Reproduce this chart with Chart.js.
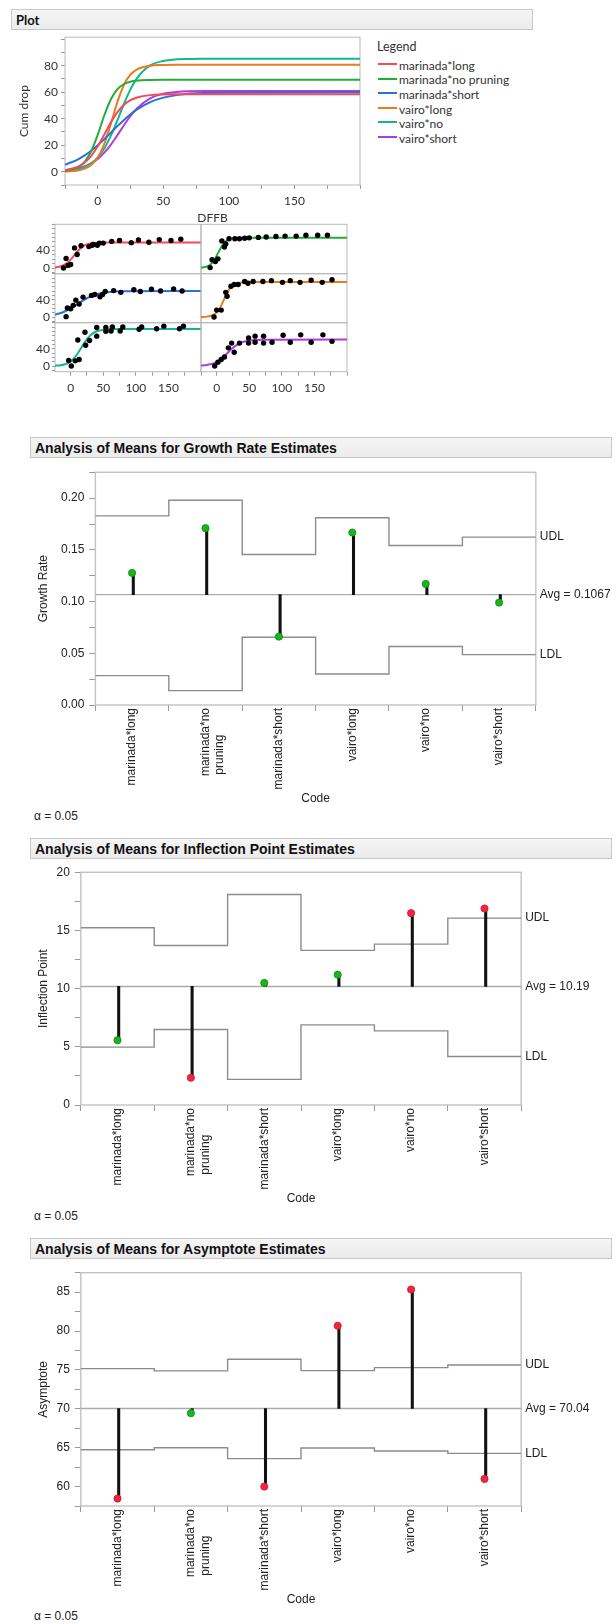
<!DOCTYPE html>
<html>
<head>
<meta charset="utf-8">
<script src="https://cdn.jsdelivr.net/npm/chart.js@4.4.1/dist/chart.umd.min.js"></script>
<style>
  body { margin: 0; background: #fff; width: 616px; height: 1624px; position: relative; overflow: hidden; }
  .hdr { position: absolute; box-sizing: border-box; border: 1px solid #c8c8c8; background: linear-gradient(#f5f5f5, #ebebeb);
         color: #111; padding-left: 4px; display: flex; align-items: center; white-space: nowrap; }
  .txt { position: absolute; white-space: nowrap; color: #222; line-height: 1; }
  canvas { position: absolute; }
</style>
</head>
<body>
<div class="hdr" style="left:11px;top:9px;width:522px;height:21px;font:bold 13px Lato;">Plot</div>
<div class="hdr" style="left:30px;top:437px;width:582px;height:21px;font:bold 14px 'Liberation Sans';">Analysis of Means for Growth Rate Estimates</div>
<div class="hdr" style="left:30px;top:838px;width:582px;height:21px;font:bold 14px 'Liberation Sans';">Analysis of Means for Inflection Point Estimates</div>
<div class="hdr" style="left:30px;top:1238px;width:582px;height:21px;font:bold 14px 'Liberation Sans';">Analysis of Means for Asymptote Estimates</div>
<div class="txt" style="left:34px;top:809px;font:12px 'Liberation Sans';">α = 0.05</div>
<div class="txt" style="left:34px;top:1209px;font:12px 'Liberation Sans';">α = 0.05</div>
<div class="txt" style="left:34px;top:1609px;font:12px 'Liberation Sans';">α = 0.05</div>
<div id="legend"></div>
<script>
// groups
const seriesNames = ['marinada*long', 'marinada*no pruning', 'marinada*short', 'vairo*long', 'vairo*no', 'vairo*short'];
const seriesColors = ['#f24a5b', '#22ad3a', '#2a6fdf', '#ec7b1e', '#14b68e', '#b23be0'];

// fitted curves
const curveDays = [-25, -15, -10, -5, 0, 5, 10, 15, 20, 25, 30, 40, 50, 60, 80, 200];
const curveML = [1.1, 3.9, 7.0, 12.0, 19.2, 28.1, 37.3, 45.0, 50.5, 54.0, 56.0, 57.8, 58.3, 58.5, 58.5, 58.5];
const curveMN = [0.6, 3.4, 7.5, 15.5, 28.0, 42.6, 54.7, 62.3, 66.2, 68.0, 68.8, 69.3, 69.4, 69.4, 69.4, 69.4];
const curveMS = [5.3, 9.4, 12.3, 15.9, 20.0, 24.6, 29.5, 34.4, 39.1, 43.4, 47.0, 52.5, 55.9, 57.8, 59.4, 60.0];
const curveVL = [0.2, 1.0, 2.3, 5.1, 10.8, 21.1, 36.3, 52.7, 65.6, 73.4, 77.3, 80.0, 80.5, 80.7, 80.7, 80.7];
const curveVN = [0.7, 2.1, 3.7, 6.4, 10.8, 17.6, 27.2, 38.9, 51.3, 62.3, 70.7, 80.2, 83.6, 84.8, 85.3, 85.3];
const curveVS = [1.0, 2.5, 4.0, 6.3, 9.6, 14.4, 20.5, 27.6, 35.1, 42.1, 47.9, 55.4, 58.8, 60.2, 60.9, 61.0];
const curves = [curveML, curveMN, curveMS, curveVL, curveVN, curveVS];

// observations in the small panels
const daysML = [-11, -7, -4, 0, 6, 10, 16, 28, 33, 35, 41, 44, 50, 63, 75, 93, 104, 120, 136, 154, 169];
const dropML = [0, 22, 6, 8, 46, 31, 51, 49, 52, 54, 52, 57, 57, 61, 63, 58, 64, 59, 65, 63, 66];
const daysMN = [-10, -7, -2, 2, 8, 12, 14, 19, 28, 35, 43, 50, 64, 76, 91, 105, 122, 137, 155, 170];
const dropMN = [1, 19, 15, 21, 62, 48, 55, 67, 67, 67, 68, 69, 70, 71, 72, 73, 73, 75, 75, 75];
const daysMS = [-7, -5, 0, 4, 8, 13, 19, 32, 37, 45, 49, 53, 66, 77, 97, 107, 124, 138, 158, 171];
const dropMS = [1, 21, 19, 27, 39, 30, 46, 50, 52, 47, 52, 59, 61, 57, 63, 59, 64, 60, 65, 60];
const daysVL = [-4, 0, 7, 14, 16, 22, 27, 33, 43, 48, 56, 71, 84, 101, 113, 128, 145, 162, 177];
const dropVL = [0, 16, 16, 57, 48, 71, 75, 75, 82, 78, 82, 82, 84, 80, 84, 80, 85, 80, 86];
const daysVN = [-3, 1, 7, 11, 13, 22, 23, 29, 40, 40, 54, 54, 62, 64, 76, 80, 105, 109, 132, 143, 167, 173];
const dropVN = [13, 0, 12, 60, 15, 78, 48, 59, 69, 89, 80, 89, 81, 90, 81, 90, 85, 90, 86, 92, 86, 92];
const daysVS = [-3, 2, 7, 12, 18, 23, 27, 35, 49, 49, 59, 59, 72, 72, 85, 102, 113, 129, 145, 163, 177];
const dropVS = [0, 9, 15, 21, 42, 53, 32, 53, 65, 53, 69, 55, 69, 53, 55, 71, 55, 72, 55, 72, 57];
const obsDays = [daysML, daysMN, daysMS, daysVL, daysVN, daysVS];
const obsDrops = [dropML, dropMN, dropMS, dropVL, dropVN, dropVS];

// analysis of means
const growthRate = [0.1277, 0.1710, 0.0661, 0.1668, 0.1171, 0.0990];
const growthUDL = [0.1829, 0.1980, 0.1455, 0.1810, 0.1542, 0.1623];
const growthLDL = [0.0284, 0.0139, 0.0655, 0.0300, 0.0565, 0.0487];
const growthAvg = 0.1067;

const inflection = [5.57, 2.34, 10.49, 11.2, 16.49, 16.89];
const inflUDL = [15.23, 13.71, 18.09, 13.29, 13.83, 16.06];
const inflLDL = [4.97, 6.49, 2.2, 6.89, 6.37, 4.17];
const inflAvg = 10.19;

const asymptote = [58.46, 69.44, 60.0, 80.68, 85.34, 60.98];
const asymUDL = [75.17, 74.87, 76.37, 74.91, 75.3, 75.64];
const asymLDL = [64.74, 65.0, 63.59, 64.96, 64.57, 64.27];
const asymAvg = 70.04;

Chart.defaults.animation = false;
Chart.defaults.responsive = false;
Chart.defaults.events = [];
Chart.defaults.plugins.legend.display = false;
Chart.defaults.plugins.tooltip.enabled = false;

const framePlugin = {
  id: 'frame',
  beforeDatasetsDraw(chart, args, opts) {
    if (!opts.color) return;
    const a = chart.chartArea, ctx = chart.ctx;
    ctx.save();
    ctx.strokeStyle = opts.color;
    ctx.lineWidth = opts.width || 1;
    ctx.strokeRect(a.left, a.top, a.right - a.left, a.bottom - a.top);
    ctx.restore();
  }
};

const limitLabels = {
  id: 'limitLabels',
  afterDraw(chart, args, opts) {
    if (!opts.text) return;
    const { ctx, chartArea, scales } = chart;
    ctx.save();
    ctx.font = '12px "Liberation Sans"';
    ctx.fillStyle = '#222';
    ctx.textBaseline = 'middle';
    const x = chartArea.right + 4;
    ctx.fillText('UDL', x, scales.y.getPixelForValue(opts.udl));
    ctx.fillText(opts.text, x, scales.y.getPixelForValue(opts.avg));
    ctx.fillText('LDL', x, scales.y.getPixelForValue(opts.ldl));
    ctx.restore();
  }
};
Chart.register(framePlugin, limitLabels);

// put a canvas so that the plot area lands on frame f
function place(f, yW, xH, pad, padR) {
  const left = Math.floor(f.l - yW - pad), top = Math.floor(f.t - pad);
  const w = Math.ceil(f.r + padR - left), h = Math.ceil(f.b + xH + pad - top);
  const c = document.createElement('canvas');
  c.width = w; c.height = h;
  c.style.left = left + 'px'; c.style.top = top + 'px';
  document.body.appendChild(c);
  return { c, pad: { left: f.l - yW - left, top: f.t - top, right: w - (f.r - left), bottom: h - (f.b - top) - xH } };
}

const lato = { family: 'Lato', size: 12 };
const arial = { family: 'Liberation Sans', size: 12 };

// legend
const lg = document.getElementById('legend');
lg.innerHTML = '<div class="txt" style="left:377px;top:39px;font:12.5px Lato;color:#333">Legend</div>' +
  seriesNames.map((nm, i) =>
    '<div style="position:absolute;left:378px;top:' + (63 + i * 14.6) + 'px;width:19px;height:2px;background:' + seriesColors[i] + '"></div>' +
    '<div class="txt" style="left:399px;top:' + (57.8 + i * 14.6) + 'px;font:12px Lato;color:#333">' + nm + '</div>').join('');

// top plot
const top0 = place({ l: 65, t: 37, r: 360, b: 185 }, 48, 40, 10, 10);
new Chart(top0.c, {
  type: 'line',
  data: {
    datasets: seriesNames.map((nm, i) => ({
      label: nm,
      data: curveDays.map((d, k) => ({ x: d, y: curves[i][k] })),
      borderColor: seriesColors[i], borderWidth: 2, pointRadius: 0, cubicInterpolationMode: 'monotone'
    }))
  },
  options: {
    layout: { padding: top0.pad },
    scales: {
      x: {
        type: 'linear', min: -25, max: 200, afterFit: s => { s.height = 40; },
        ticks: { stepSize: 25, includeBounds: false, autoSkip: false, maxRotation: 0, padding: 5, color: '#333', font: lato,
                 callback: v => (v % 50 === 0 && v >= 0 && v <= 150) ? String(v) : '' },
        grid: { drawOnChartArea: false, tickLength: 4, color: '#999' }, border: { display: false },
        title: { display: true, text: 'DFFB', padding: 0, color: '#333', font: lato }
      },
      y: {
        min: -10, max: 101.5, afterFit: s => { s.width = 48; },
        ticks: { stepSize: 10, includeBounds: false, autoSkip: false, padding: 3, color: '#333', font: lato,
                 callback: v => (v % 20 === 0 && v >= 0 && v <= 80) ? String(v) : '' },
        grid: { drawOnChartArea: false, tickLength: 4, color: '#999' }, border: { display: false },
        title: { display: true, text: 'Cum drop', padding: 0, color: '#333', font: lato }
      }
    },
    plugins: { frame: { color: '#b8b8b8' } }
  }
});

// small panels
const colX = [55, 201, 347];
const rowY = [224.3, 273.7, 322.7, 371.7];
seriesNames.forEach((nm, i) => {
  const col = i % 2, row = Math.floor(i / 2);
  const yW = col === 0 ? 30 : 0, xH = row === 2 ? 26 : 0;
  const p = place({ l: colX[col], r: colX[col + 1], t: rowY[row], b: rowY[row + 1] }, yW, xH, 10, 10);
  new Chart(p.c, {
    type: 'line',
    data: {
      datasets: [
        { data: obsDays[i].map((d, k) => ({ x: d, y: obsDrops[i][k] })), showLine: false,
          pointRadius: 2.7, pointBackgroundColor: '#000', pointBorderWidth: 0, order: 0 },
        { data: curveDays.map((d, k) => ({ x: d, y: curves[i][k] })), borderColor: seriesColors[i],
          borderWidth: 2, pointRadius: 0, cubicInterpolationMode: 'monotone', order: 1 }
      ]
    },
    options: {
      layout: { padding: p.pad },
      scales: {
        x: {
          type: 'linear', min: -24, max: 200, display: row === 2, afterFit: s => { s.height = xH; },
          ticks: { stepSize: 25, includeBounds: false, autoSkip: false, maxRotation: 0, padding: 5, color: '#333', font: lato,
                   callback: v => (v % 50 === 0 && v >= 0 && v <= 150) ? String(v) : '' },
          grid: { drawOnChartArea: false, tickLength: 4, color: '#999' }, border: { display: false }
        },
        y: {
          min: -13, max: 100, display: col === 0, afterFit: s => { s.width = yW; },
          ticks: { stepSize: 10, includeBounds: false, autoSkip: false, padding: 2, color: '#333', font: lato,
                   callback: v => (v === 0 || v === 40) ? String(v) : '' },
          grid: { drawOnChartArea: false, tickLength: 3, color: '#999' }, border: { display: false }
        }
      },
      plugins: { frame: { color: '#b8b8b8' } }
    }
  });
});

// analysis of means charts
// two-line code labels start at the same end (pad the shorter line)
const meas = document.createElement('canvas').getContext('2d');
meas.font = '12px "Liberation Sans"';
const codeLabels = seriesNames.map(nm => {
  if (!nm.includes(' ')) return nm;
  const parts = nm.split(' ');
  const wMax = Math.max(...parts.map(s => meas.measureText(s).width));
  return parts.map(s => { let t = s; while (meas.measureText(t + ' ').width <= wMax) t += ' '; return t; });
});
const nG = seriesNames.length;
const stepPts = arr => arr.map((v, i) => ({ x: i, y: v })).concat([{ x: nG, y: arr[nG - 1] }]);

function anom(o) {
  const p = place(o.frame, o.yW, 101, 12, 616 - o.frame.r);
  const out = o.values.map((v, i) => v > o.udl[i] || v < o.ldl[i]);
  const isMajor = v => Math.abs(v / o.major - Math.round(v / o.major)) < 1e-6;
  new Chart(p.c, {
    type: 'bar',
    data: {
      labels: codeLabels,
      datasets: [
        { type: 'line', xAxisID: 'x2', data: o.values.map((v, i) => ({ x: i + 0.5, y: v })), showLine: false,
          pointRadius: 3.6, pointBorderWidth: 0.8,
          pointBackgroundColor: out.map(r => r ? '#f2243e' : '#19b51b'),
          pointBorderColor: out.map(r => r ? '#c81830' : '#0f8a12'), order: 0 },
        { type: 'bar', data: o.values.map(v => [o.avg, v]), backgroundColor: '#111', barThickness: 2.4, order: 1 },
        { type: 'line', xAxisID: 'x2', data: stepPts(o.udl), stepped: true, borderColor: '#8c8c8c', borderWidth: 1.4, pointRadius: 0, order: 2 },
        { type: 'line', xAxisID: 'x2', data: stepPts(o.ldl), stepped: true, borderColor: '#8c8c8c', borderWidth: 1.4, pointRadius: 0, order: 2 },
        { type: 'line', xAxisID: 'x2', data: [{ x: 0, y: o.avg }, { x: nG, y: o.avg }], borderColor: '#ababab', borderWidth: 1.4, pointRadius: 0, order: 3 }
      ]
    },
    options: {
      layout: { padding: p.pad },
      scales: {
        x: {
          type: 'category', offset: true, afterFit: s => { s.height = 101; },
          ticks: { minRotation: 90, maxRotation: 90, autoSkip: false, padding: -3, color: '#222', font: arial },
          grid: { offset: true, drawOnChartArea: false, tickLength: 6, color: '#999' }, border: { display: false },
          title: { display: true, text: 'Code', padding: 0, color: '#222', font: arial }
        },
        x2: { type: 'linear', display: false, offset: false, grid: { offset: false }, min: 0, max: nG },
        y: {
          min: o.min, max: o.max, afterFit: s => { s.width = o.yW; },
          ticks: { stepSize: o.major / 2, includeBounds: false, autoSkip: false, padding: 5, color: '#222', font: arial,
                   callback: v => isMajor(v) ? v.toFixed(o.dec) : '' },
          grid: { drawOnChartArea: false, tickLength: 6, color: '#999' }, border: { display: false },
          title: { display: true, text: o.title, padding: 0, color: '#222', font: arial }
        }
      },
      plugins: {
        frame: { color: '#c2c2c2', width: 1.4 },
        limitLabels: { udl: o.udl[nG - 1], ldl: o.ldl[nG - 1], avg: o.avg, text: 'Avg = ' + o.avgText }
      }
    }
  });
}

anom({ frame: { l: 95.4, t: 472.3, r: 535.8, b: 705 }, yW: 58.6, values: growthRate, udl: growthUDL, ldl: growthLDL,
       avg: growthAvg, avgText: growthAvg.toFixed(4), min: 0, max: 0.225, major: 0.05, dec: 2, title: 'Growth Rate' });
anom({ frame: { l: 80.8, t: 872.3, r: 521.2, b: 1105 }, yW: 44, values: inflection, udl: inflUDL, ldl: inflLDL,
       avg: inflAvg, avgText: inflAvg.toFixed(2), min: 0, max: 20, major: 5, dec: 0, title: 'Inflection Point' });
anom({ frame: { l: 80.8, t: 1272.7, r: 521.2, b: 1506 }, yW: 44, values: asymptote, udl: asymUDL, ldl: asymLDL,
       avg: asymAvg, avgText: asymAvg.toFixed(2), min: 57.5, max: 87.5, major: 5, dec: 0, title: 'Asymptote' });
</script>
</body>
</html>
